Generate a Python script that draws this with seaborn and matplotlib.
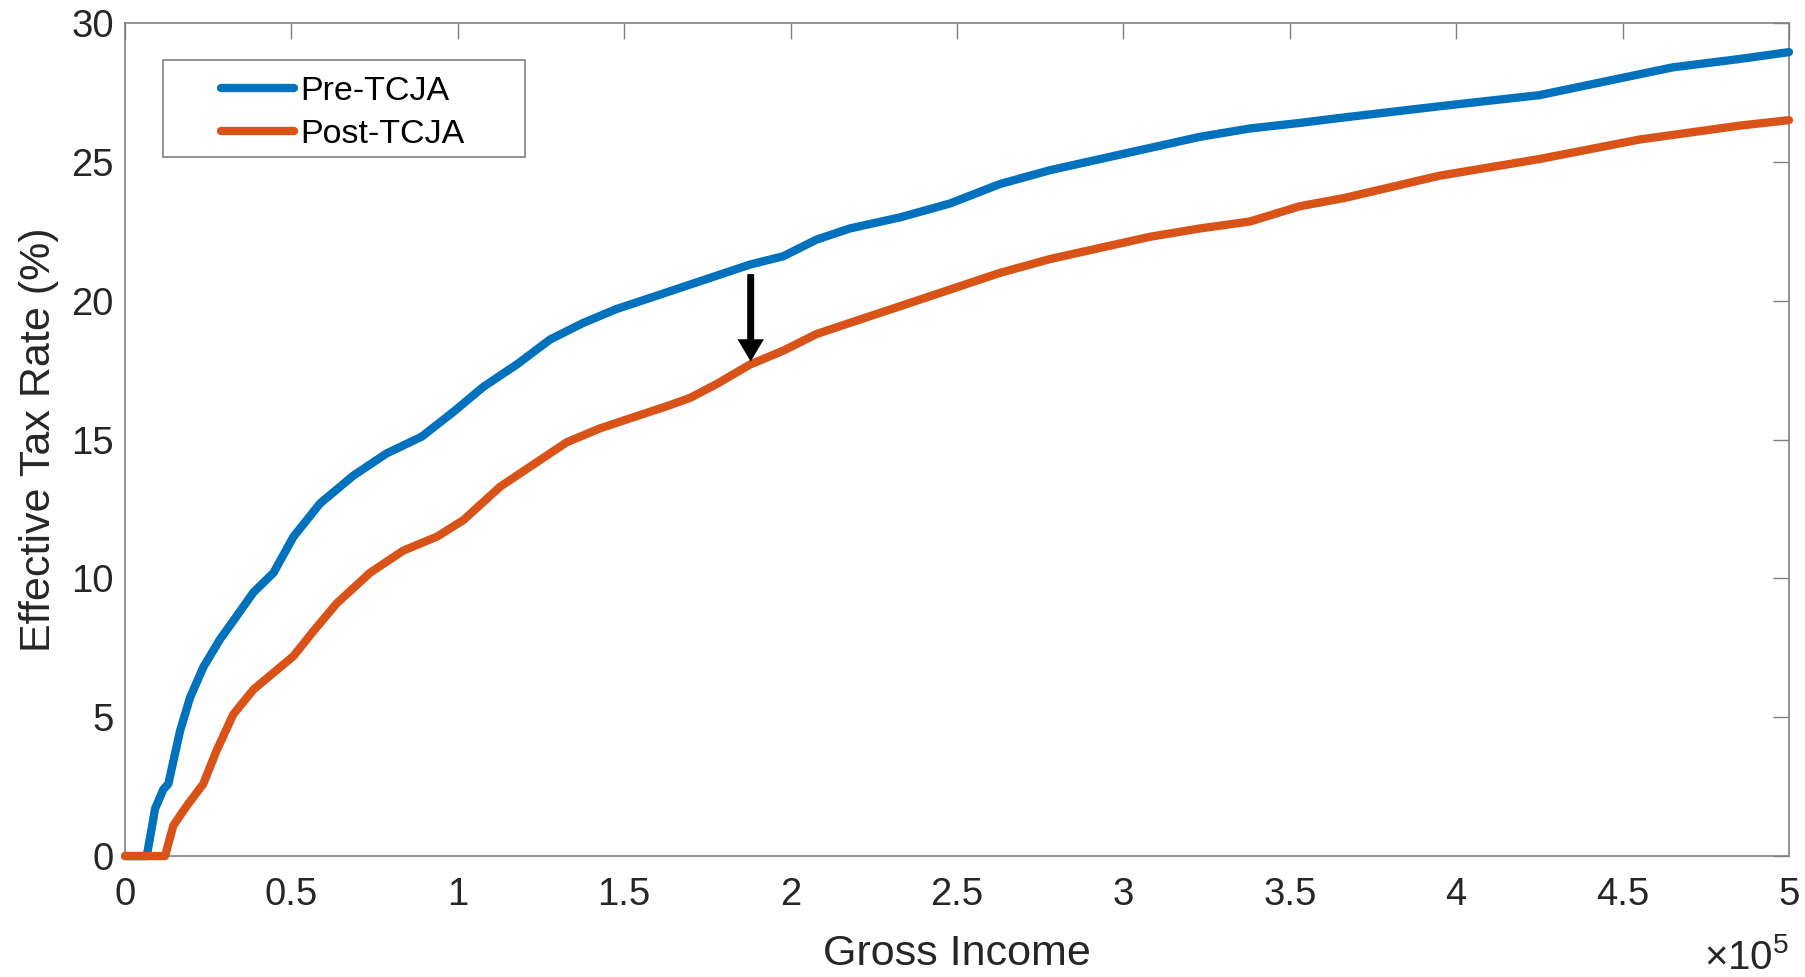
import numpy as np
import pandas as pd
import matplotlib
matplotlib.use('Agg')
import matplotlib.pyplot as plt
import seaborn as sns
from matplotlib.patches import Rectangle
from matplotlib.ticker import FuncFormatter

# values (income in dollars, rate in %)
pre_income = [0, 6500, 8000, 9000, 11500, 13000, 16500, 19500, 23500, 28500,
              31500, 38600, 44600, 50600, 58600, 68600, 78600, 89100, 98700, 107700,
              117700, 127700, 137700, 147700, 157800, 167800, 177800, 187800, 197800, 207800,
              217800, 232900, 247900, 262900, 278000, 293000, 308000, 323000, 338000, 353000,
              366500, 395000, 425000, 445000, 465000, 485000, 500000]
pre_rate = [0, 0, 1.0, 1.7, 2.4, 2.6, 4.5, 5.7, 6.8, 7.8,
            8.3, 9.5, 10.2, 11.5, 12.7, 13.7, 14.5, 15.1, 16.0, 16.9,
            17.7, 18.6, 19.2, 19.7, 20.1, 20.5, 20.9, 21.3, 21.6, 22.2,
            22.6, 23.0, 23.5, 24.2, 24.7, 25.1, 25.5, 25.9, 26.2, 26.4,
            26.6, 27.0, 27.4, 27.9, 28.4, 28.7, 28.95]

post_income = [0, 12000, 14500, 18500, 23500, 27500, 32500, 38600, 44600, 50600,
               56600, 63600, 73600, 83600, 93700, 101700, 112700, 122700, 132700, 142700,
               152700, 162800, 169800, 177800, 187800, 197800, 207800, 217800, 232900, 247900,
               262900, 278000, 293000, 308000, 323000, 338000, 353000, 366500, 395000, 425000,
               455000, 485000, 500000]
post_rate = [0, 0, 1.1, 1.8, 2.6, 3.8, 5.1, 6.0, 6.6, 7.2,
             8.1, 9.1, 10.2, 11.0, 11.5, 12.1, 13.3, 14.1, 14.9, 15.4,
             15.8, 16.2, 16.5, 17.0, 17.7, 18.2, 18.8, 19.2, 19.8, 20.4,
             21.0, 21.5, 21.9, 22.3, 22.6, 22.85, 23.4, 23.7, 24.5, 25.1,
             25.8, 26.3, 26.5]

labels = ['Pre-TCJA', 'Post-TCJA']
colors = ['#0072BD', '#D95319']
arrow_income = 188000

x_ticks = np.arange(0, 500001, 50000)
y_ticks = np.arange(0, 31, 5)

df = pd.concat([
    pd.DataFrame({'income': pre_income, 'rate': pre_rate, 'policy': labels[0]}),
    pd.DataFrame({'income': post_income, 'rate': post_rate, 'policy': labels[1]}),
], ignore_index=True)

sns.set_style('white')
plt.rcParams['font.family'] = ['Liberation Sans', 'DejaVu Sans']
plt.rcParams['mathtext.fontset'] = 'custom'
plt.rcParams['mathtext.rm'] = 'Liberation Sans'

AXIS_GRAY = '#808080'
TEXT_COLOR = '#262626'

fig, ax = plt.subplots(figsize=(18.05, 9.77), dpi=100)
fig.subplots_adjust(left=0.0693, right=0.9911, bottom=0.1238, top=0.9765)

sns.lineplot(data=df, x='income', y='rate', hue='policy', palette=colors,
             estimator=None, sort=False, linewidth=6, ax=ax, legend=False,
             clip_on=False, zorder=3, solid_joinstyle='round')

# arrow showing the drop in rate
y_pre = np.interp(arrow_income, pre_income, pre_rate)
y_post = np.interp(arrow_income, post_income, post_rate)
ax.annotate('', xy=(arrow_income, y_post + 0.1), xytext=(arrow_income, y_pre - 0.35),
            arrowprops=dict(facecolor='black', edgecolor='black', lw=0,
                            width=5, headwidth=19, headlength=16, shrink=0),
            zorder=4)

ax.set_xlim(0, 500000)
ax.set_ylim(0, 30)
ax.set_xticks(x_ticks)
ax.set_yticks(y_ticks)
ax.xaxis.set_major_formatter(FuncFormatter(lambda v, _: f'{v / 1e5:g}'))

ax.tick_params(direction='in', length=11.5, width=1, color=AXIS_GRAY,
               top=True, right=True, labelsize=27.5, labelcolor=TEXT_COLOR)
ax.tick_params(axis='x', pad=15)
ax.tick_params(axis='y', pad=8)
for spine in ax.spines.values():
    spine.set_visible(True)
    spine.set_color(AXIS_GRAY)
    spine.set_linewidth(1.2)

ax.set_xlabel('Gross Income', fontsize=31, color=TEXT_COLOR, va='center')
ax.set_ylabel('Effective Tax Rate (%)', fontsize=31, color=TEXT_COLOR)
ax.xaxis.set_label_coords(0.5, -0.117)
ax.yaxis.set_label_coords(-0.040, 0.5)

ax.text(1.0, -0.098, r'$\times\mathregular{10^{5}}$', transform=ax.transAxes,
        ha='right', va='top', fontsize=29, color=TEXT_COLOR)

# legend: MATLAB-style box drawn separately from the entries
handles = [plt.Line2D([], [], color=c, linewidth=6) for c in colors]
leg = ax.legend(handles, labels, loc='center left', bbox_to_anchor=(0.0577, 0.8921),
                frameon=False, fontsize=24.5, handlelength=2.15, handletextpad=0.18,
                labelspacing=0.35, borderpad=0, borderaxespad=0)
for t in leg.get_texts():
    t.set_color('black')
ax.add_patch(Rectangle((0.0226, 0.8391), 0.2178, 0.1165, transform=ax.transAxes,
                       facecolor='white', edgecolor=AXIS_GRAY, linewidth=1.2, zorder=5))
leg.set_zorder(6)

plt.savefig('out.png', dpi=100)
